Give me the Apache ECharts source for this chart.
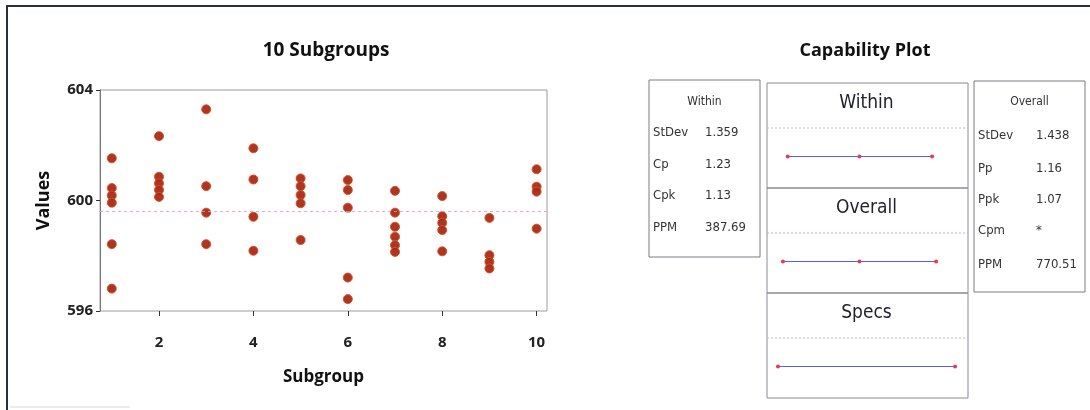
<!DOCTYPE html>
<html>
<head>
<meta charset="utf-8">
<script src="https://cdn.jsdelivr.net/npm/echarts@6/dist/echarts.min.js"></script>
<style>
html,body{margin:0;padding:0;background:#fff;}
#chart{width:1090px;height:410px;}
</style>
</head>
<body>
<div id="chart"></div>
<script>
// ---- data ----
var subgroups = [1, 2, 3, 4, 5, 6, 7, 8, 9, 10];
var values1 = [601.53, 600.45, 600.18, 599.92, 598.42, 596.81];
var values2 = [602.33, 600.86, 600.62, 600.38, 600.13];
var values3 = [603.3, 600.52, 599.56, 598.42];
var values4 = [601.89, 600.76, 599.41, 598.18];
var values5 = [600.8, 600.52, 600.2, 599.9, 598.57];
var values6 = [600.74, 600.38, 599.74, 597.21, 596.43];
var values7 = [600.35, 599.56, 599.05, 598.69, 598.38, 598.14];
var values8 = [600.16, 599.43, 599.19, 598.93, 598.16];
var values9 = [599.37, 598.02, 597.78, 597.54];
var values10 = [601.13, 600.5, 600.32, 598.98];
var grandMean = 599.6;
var yTicks = [596, 600, 604];
var xTickLabels = [2, 4, 6, 8, 10];

var capRows = ['Within', 'Overall', 'Specs'];
var withinInterval = [595.55, 599.6, 603.7];
var overallInterval = [595.28, 599.6, 603.93];
var specLimits = [595, 605];

var withinLabels = ['StDev', 'Cp', 'Cpk', 'PPM'];
var withinValues = ['1.359', '1.23', '1.13', '387.69'];
var overallLabels = ['StDev', 'Pp', 'Ppk', 'Cpm', 'PPM'];
var overallValues = ['1.438', '1.16', '1.07', '*', '770.51'];

// ---- build ----
var allGroups = [values1, values2, values3, values4, values5, values6, values7, values8, values9, values10];
var scatterData = [];
allGroups.forEach(function (arr, i) {
  arr.forEach(function (v) { scatterData.push([subgroups[i], v]); });
});

var boldFont = "'Open Sans', 'DejaVu Sans', sans-serif";
var narrowFont = "'DejaVu Sans Condensed', 'Liberation Sans', sans-serif";

var graphics = [];
// outer frame
graphics.push({type: 'polyline', shape: {points: [[7, 420], [7, 6], [1100, 6]]}, style: {stroke: '#26303c', lineWidth: 2, fill: null}});
graphics.push({type: 'line', shape: {x1: 10, y1: 407, x2: 130, y2: 407}, style: {stroke: '#d8d8d8', lineWidth: 1}});
// titles
graphics.push({type: 'text', x: 326, y: 51, style: {text: '10 Subgroups', font: 'bold 19px ' + boldFont, fill: '#111', align: 'center', verticalAlign: 'middle'}});
graphics.push({type: 'text', x: 865, y: 51, style: {text: 'Capability Plot', font: 'bold 18px ' + boldFont, fill: '#111', align: 'center', verticalAlign: 'middle'}});

// middle capability panel sub-boxes
var subTop = 83, subH = 105, panelL = 767, panelW = 201;
capRows.forEach(function (name, i) {
  var t = subTop + i * subH;
  graphics.push({type: 'rect', shape: {x: panelL, y: t, width: panelW, height: subH}, style: {fill: null, stroke: '#8a8a96', lineWidth: 1}});
  graphics.push({type: 'text', x: panelL + panelW / 2 - 1, y: t + 20, style: {text: name, font: '19px ' + narrowFont, fill: '#22222e', align: 'center', verticalAlign: 'middle'}});
  graphics.push({type: 'line', shape: {x1: panelL, y1: t + 45, x2: panelL + panelW, y2: t + 45}, style: {stroke: '#b8b8d0', lineWidth: 1, lineDash: [2, 2]}});
});

// stat boxes
function statBox(x, y, w, h, title, labels, vals, rowY, valX) {
  graphics.push({type: 'rect', shape: {x: x, y: y, width: w, height: h}, style: {fill: null, stroke: '#7a7a86', lineWidth: 1}});
  graphics.push({type: 'text', x: x + w / 2, y: 102, style: {text: title, font: '12px ' + narrowFont, fill: '#333', align: 'center', verticalAlign: 'middle'}});
  labels.forEach(function (lb, i) {
    graphics.push({type: 'text', x: x + 4, y: rowY[i], style: {text: lb, font: '13px ' + narrowFont, fill: '#333', verticalAlign: 'middle'}});
    graphics.push({type: 'text', x: valX, y: rowY[i], style: {text: vals[i], font: '13px ' + narrowFont, fill: '#333', verticalAlign: 'middle'}});
  });
}
statBox(649, 80, 111, 177, 'Within', withinLabels, withinValues, [133, 165, 196, 228], 705);
statBox(974, 81, 111, 211, 'Overall', overallLabels, overallValues, [136, 169, 200, 231, 265], 1036);

function intervalSeries(vals, row) {
  return {
    type: 'line', xAxisIndex: 1, yAxisIndex: 1,
    data: vals.map(function (v) { return [v, row + 0.7]; }),
    symbol: 'circle', symbolSize: 4,
    itemStyle: {color: '#e0404a'},
    lineStyle: {color: '#5b5cf0', width: 1},
    silent: true, animation: false
  };
}

var option = {
  animation: false,
  graphic: graphics,
  grid: [
    {left: 100, top: 90, width: 447, height: 221, show: true, borderColor: '#9a9aa4', borderWidth: 1, backgroundColor: '#fff'},
    {left: panelL, top: subTop, width: panelW, height: subH * 3, show: false}
  ],
  xAxis: [
    {
      type: 'value', gridIndex: 0, min: 0.75, max: 10.22,
      name: 'Subgroup', nameLocation: 'middle', nameGap: 58,
      nameTextStyle: {fontFamily: boldFont, fontWeight: 'bold', fontSize: 17, color: '#111'},
      axisLine: {show: false},
      axisTick: {show: true, length: 5, customValues: xTickLabels, lineStyle: {color: '#333'}},
      axisLabel: {customValues: xTickLabels, margin: 24, fontFamily: boldFont, fontWeight: 'bold', fontSize: 15, color: '#222'},
      splitLine: {show: false}
    },
    {type: 'value', gridIndex: 1, min: 594.38, max: 605.73, show: false}
  ],
  yAxis: [
    {
      type: 'value', gridIndex: 0, min: yTicks[0], max: yTicks[yTicks.length - 1], interval: 4,
      name: 'Values', nameLocation: 'middle', nameGap: 47, nameRotate: 90,
      nameTextStyle: {fontFamily: boldFont, fontWeight: 'bold', fontSize: 18, color: '#111'},
      axisLine: {show: true, lineStyle: {color: '#777', width: 1}},
      axisTick: {show: true, length: 4, lineStyle: {color: '#333'}},
      axisLabel: {margin: 7, fontFamily: boldFont, fontWeight: 'bold', fontSize: 15, color: '#222'},
      splitLine: {show: false}
    },
    {type: 'value', gridIndex: 1, min: 0, max: 3, inverse: true, show: false}
  ],
  series: [
    {
      type: 'scatter', xAxisIndex: 0, yAxisIndex: 0,
      data: scatterData, symbolSize: 9,
      itemStyle: {color: '#a82a18', borderColor: '#d8501e', borderWidth: 1, opacity: 0.95},
      markLine: {
        silent: true, symbol: 'none', label: {show: false},
        lineStyle: {color: '#f08ad0', type: [3, 3], width: 1, opacity: 0.8},
        data: [{yAxis: grandMean}]
      },
      z: 3
    },
    intervalSeries(withinInterval, 0),
    intervalSeries(overallInterval, 1),
    intervalSeries(specLimits, 2)
  ]
};

var chart = echarts.init(document.getElementById('chart'), null, {renderer: 'canvas'});
chart.setOption(option);
</script>
</body>
</html>
